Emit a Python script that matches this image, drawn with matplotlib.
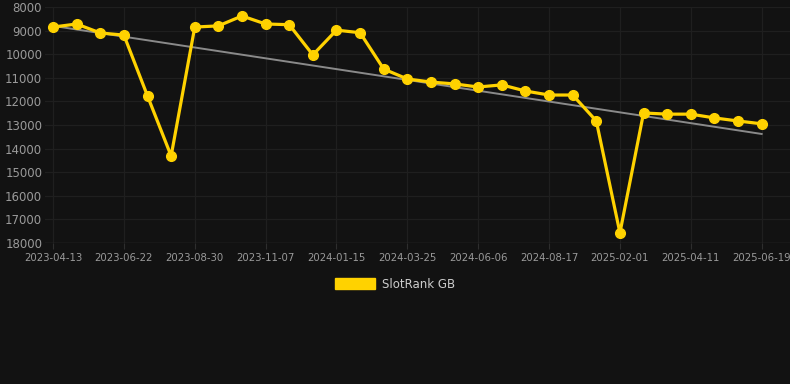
import matplotlib
matplotlib.use("Agg")
import matplotlib.pyplot as plt
from matplotlib.patches import Patch

# rank values, one per sample (inverted axis: lower is better)
ranks = [8850, 8720, 9100, 9190, 11770, 14310, 8850, 8800, 8380, 8720,
         8750, 10030, 8980, 9090, 10630, 11050, 11180, 11260, 11390, 11300,
         11560, 11730, 11730, 12830, 17570, 12490, 12540, 12540, 12700, 12830,
         12950]
tick_labels = ["2023-04-13", "2023-06-22", "2023-08-30", "2023-11-07",
               "2024-01-15", "2024-03-25", "2024-06-06", "2024-08-17",
               "2025-02-01", "2025-04-11", "2025-06-19"]
trend_ends = [8800, 13380]

bg = "#121212"
gold = "#ffd200"

fig = plt.figure(figsize=(7.9, 3.84), dpi=100, facecolor=bg)
ax = fig.add_axes([45 / 790, 1 - 243 / 384, 1 - 45 / 790, (243 - 7) / 384])
ax.set_facecolor(bg)

x = list(range(len(ranks)))
ax.plot([x[0], x[-1]], trend_ends, color="#8a8a8a", lw=1.4, zorder=2)
ax.plot(x, ranks, color=gold, lw=2.3, marker="o", ms=7, zorder=3)

ax.set_ylim(18000, 8000)
ax.set_yticks(range(8000, 18001, 1000))
ax.set_xlim(-0.34, len(ranks) - 1 + 1.2)
ax.set_xticks(x[::3])
ax.set_xticklabels(tick_labels)

ax.grid(True, color="#1f1f1f", lw=0.9)
ax.set_axisbelow(True)
for s in ax.spines.values():
    s.set_visible(False)
ax.axhline(18000, color="#2e2e2e", lw=1, zorder=1)
ax.tick_params(axis="y", length=0, labelsize=8.5, labelcolor="#9a9a9a", pad=2)
ax.tick_params(axis="x", length=4, color="#2e2e2e", labelsize=7.3,
               labelcolor="#9a9a9a", pad=3)

fig.legend(handles=[Patch(facecolor=gold, edgecolor=gold, label="SlotRank GB")],
           loc="center", bbox_to_anchor=(0.5, 1 - 284 / 384), frameon=False,
           handlelength=3.4, handleheight=1.0, handletextpad=0.6,
           labelcolor="#cccccc", prop={"size": 8.5})

fig.savefig("out.png", dpi=100, facecolor=bg)
